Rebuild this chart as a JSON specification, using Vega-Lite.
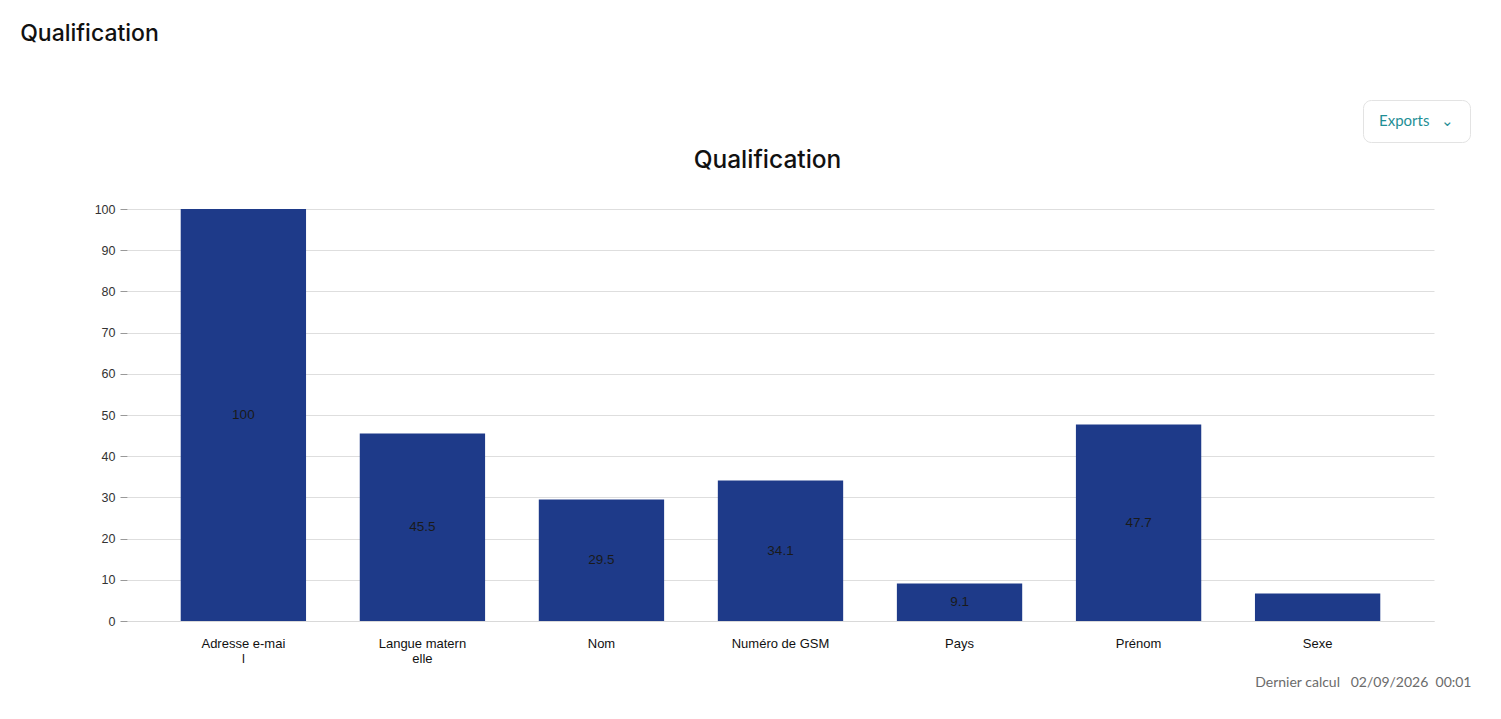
{
  "$schema": "https://vega.github.io/schema/vega-lite/v6.json",
  "background": "white",
  "padding": {"left": 20, "top": 22, "right": 30, "bottom": 10},
  "title": {
    "text": "Qualification",
    "anchor": "start",
    "font": "Inter",
    "fontSize": 23,
    "fontWeight": 500,
    "color": "#111111",
    "dx": -74,
    "offset": 54
  },
  "spacing": 4,
  "config": {
    "view": {"stroke": null},
    "concat": {"spacing": 0}
  },
  "vconcat": [
    {
      "hconcat": [
        {
          "width": 1235,
          "height": 42,
          "data": {"values": []},
          "mark": {"type": "point", "opacity": 0},
          "encoding": {}
        },
        {
          "width": 107,
          "height": 42,
          "view": {"stroke": "#e3e3e3", "cornerRadius": 8, "fill": "white"},
          "data": {"values": [{"button": "Exports\u00a0\u00a0\u00a0\u2304"}]},
          "mark": {"type": "text", "font": "Lato", "fontSize": 15, "color": "#1f8f96", "align": "center", "baseline": "middle"},
          "encoding": {"text": {"field": "button"}}
        }
      ]
    },
    {
      "width": 1307,
      "height": 412,
      "title": {
        "text": "Qualification",
        "anchor": "middle",
        "font": "Inter",
        "fontSize": 24.5,
        "fontWeight": 500,
        "color": "#111111",
        "dx": -13,
        "offset": 30
      },
      "data": {
        "values": [
          {"champ": "Adresse e-mail", "taux": 100, "etiquette": "100"},
          {"champ": "Langue maternelle", "taux": 45.5, "etiquette": "45.5"},
          {"champ": "Nom", "taux": 29.5, "etiquette": "29.5"},
          {"champ": "Numéro de GSM", "taux": 34.1, "etiquette": "34.1"},
          {"champ": "Pays", "taux": 9.1, "etiquette": "9.1"},
          {"champ": "Prénom", "taux": 47.7, "etiquette": "47.7"},
          {"champ": "Sexe", "taux": 6.7, "etiquette": ""}
        ]
      },
      "encoding": {
        "x": {
          "field": "champ",
          "type": "nominal",
          "sort": null,
          "scale": {"paddingInner": 0.3, "paddingOuter": 0.3},
          "axis": {
            "title": "Dernier calcul\u00a0\u00a0\u00a002/09/2026\u00a0\u00a000:01",
            "titleAnchor": "end",
            "titleFont": "Lato",
            "titleFontSize": 14,
            "titleFontWeight": "normal",
            "titleColor": "#6b6b6b",
            "titlePadding": 10,
            "titleX": 1344,
            "labelAngle": 0,
            "labelFont": "Liberation Sans",
            "labelFontSize": 13,
            "labelColor": "#111111",
            "labelPadding": 16,
            "labelLineHeight": 15,
            "labelExpr": "length(datum.label) > 13 ? [substring(datum.label, 0, 13), substring(datum.label, 13)] : datum.label",
            "ticks": false,
            "domainColor": "#d9d9d9"
          }
        }
      },
      "layer": [
        {
          "mark": {"type": "bar", "color": "#1e3a89"},
          "encoding": {
            "y": {
              "field": "taux",
              "type": "quantitative",
              "scale": {"domain": [0, 100]},
              "axis": {
                "title": null,
                "values": [0, 10, 20, 30, 40, 50, 60, 70, 80, 90, 100],
                "domain": false,
                "tickSize": 7,
                "tickColor": "#999999",
                "gridColor": "#dedede",
                "labelFont": "Liberation Sans",
                "labelFontSize": 12.5,
                "labelColor": "#333333",
                "labelPadding": 5
              }
            }
          }
        },
        {
          "mark": {"type": "text", "font": "Liberation Sans", "fontSize": 13.5, "color": "#1a1a1a", "baseline": "middle"},
          "encoding": {
            "y": {"field": "taux", "type": "quantitative", "scale": {"domain": [0, 200]}, "axis": null},
            "text": {"field": "etiquette"}
          }
        }
      ],
      "resolve": {"scale": {"y": "independent"}}
    }
  ]
}
